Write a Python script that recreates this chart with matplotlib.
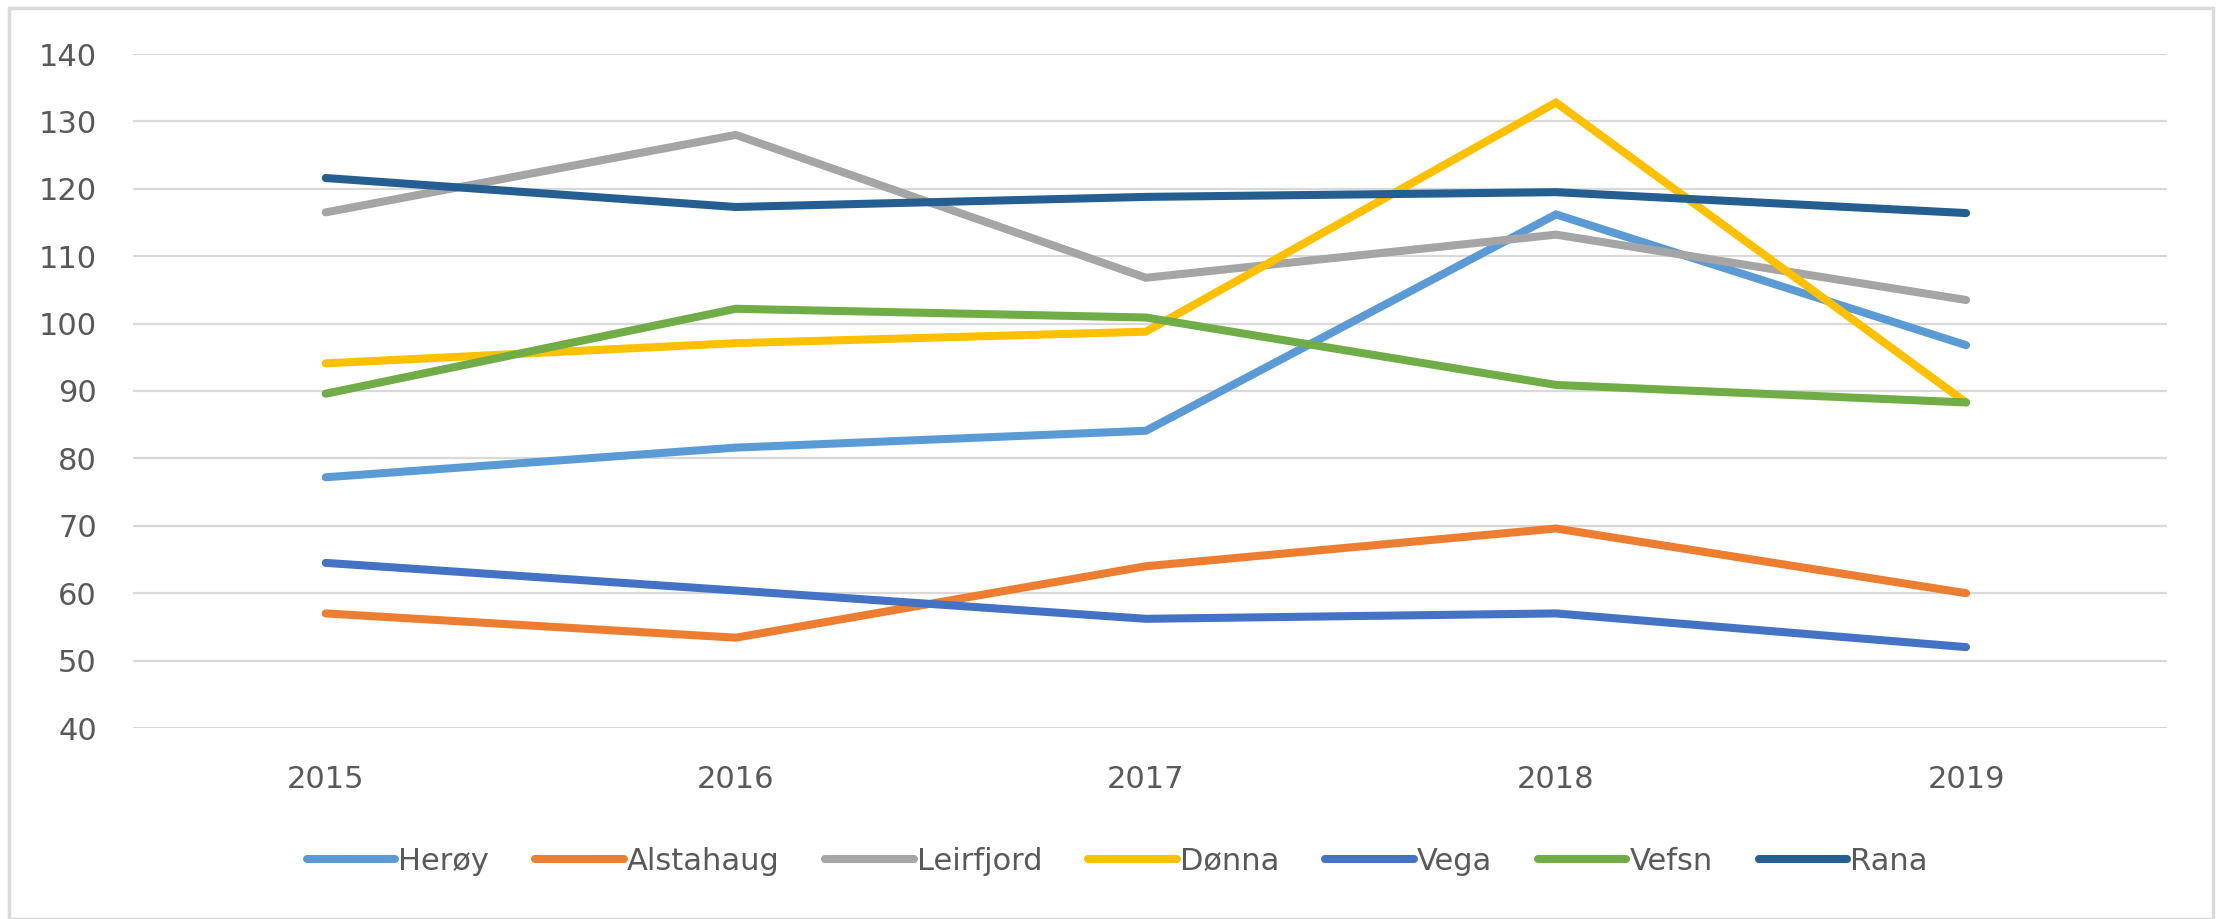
import numpy as np
import matplotlib.pyplot as plt
from matplotlib.patches import Rectangle

# data
years = ['2015', '2016', '2017', '2018', '2019']
heroy = [77.2, 81.6, 84.1, 116.2, 96.8]
alstahaug = [57.0, 53.4, 64.0, 69.6, 60.0]
leirfjord = [116.5, 128.0, 106.8, 113.2, 103.5]
donna = [94.1, 97.1, 98.8, 132.8, 88.3]
vega = [64.5, 60.4, 56.2, 57.0, 52.0]
vefsn = [89.6, 102.2, 100.9, 90.9, 88.3]
rana = [121.6, 117.3, 118.8, 119.5, 116.4]

names = ['Herøy', 'Alstahaug', 'Leirfjord', 'Dønna', 'Vega', 'Vefsn', 'Rana']
series = [heroy, alstahaug, leirfjord, donna, vega, vefsn, rana]
colors = ['#5B9BD5', '#ED7D31', '#A5A5A5', '#FFC000', '#4472C4', '#70AD47', '#255E91']
yticks = [40, 50, 60, 70, 80, 90, 100, 110, 120, 130, 140]

plt.rcParams['font.family'] = ['DejaVu Sans']

W, H = 2221, 919
fig = plt.figure(figsize=(W/100, H/100), dpi=100)
ax = fig.add_axes([133/W, 1-728/H, (2167-133)/W, (728-54)/H])

x = np.arange(len(years))
for vals, name, col in zip(series, names, colors):
    ax.plot(x, vals, color=col, lw=5.8, solid_capstyle='round',
            solid_joinstyle='miter', label=name, zorder=3)

ax.set_ylim(40, 140)
ax.set_xlim(-0.47, 4.49)
ax.set_yticks(yticks)
ax.set_xticks(x)
ax.set_xticklabels(years)
ax.yaxis.grid(True, color='#D9D9D9', lw=1.6, zorder=0)
ax.set_axisbelow(True)
for s in ax.spines.values():
    s.set_visible(False)
ax.tick_params(axis='both', length=0, labelsize=22, labelcolor='#595959')
ax.tick_params(axis='y', pad=26)
ax.tick_params(axis='x', pad=27)

leg = fig.legend(loc='center', bbox_to_anchor=(0.503, 1-861/H), ncol=7,
                 frameon=False, fontsize=22, handlelength=2.9,
                 handletextpad=0.1, columnspacing=1.5, labelcolor='#595959')
for h in leg.get_lines():
    h.set_linewidth(5.8)
    h.set_solid_capstyle('round')

# outer chart border
fig.patches.append(Rectangle((9/W, 0), (2213-9)/W, 1-8/H, transform=fig.transFigure,
                             fill=False, edgecolor='#D9D9D9', lw=2.5))

fig.savefig('out.png', dpi=100)
